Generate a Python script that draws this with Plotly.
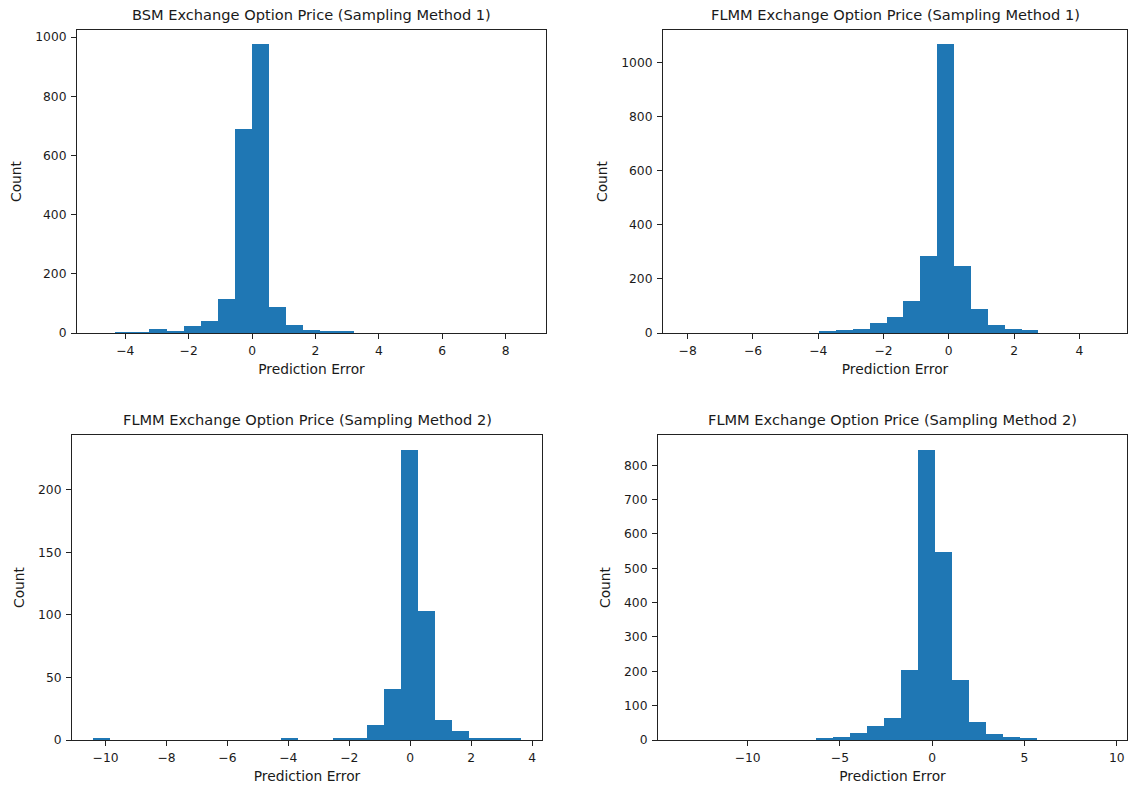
import plotly.graph_objects as go

# ---- data (histogram bins and counts) ----
titles = [
    "BSM Exchange Option Price (Sampling Method 1)",
    "FLMM Exchange Option Price (Sampling Method 1)",
    "FLMM Exchange Option Price (Sampling Method 2)",
    "FLMM Exchange Option Price (Sampling Method 2)",
]

bin_start_1, bin_width_1 = -4.85, 0.538
counts_1 = [0, 3, 3, 13, 4, 23, 42, 116, 688, 975, 89, 28, 9, 4, 4,
            0, 0, 0, 0, 0, 0, 0, 0, 0, 0]

bin_start_2, bin_width_2 = -8.11, 0.517
counts_2 = [0, 0, 0, 0, 0, 0, 0, 0, 5, 11, 15, 37, 61, 119, 284, 1067,
            248, 88, 31, 15, 10, 0, 0, 0, 0]

bin_start_3, bin_width_3 = -10.40, 0.561
counts_3 = [1, 0, 0, 0, 0, 0, 0, 0, 0, 0, 0, 1, 0, 0, 2, 1, 12, 41, 232,
            103, 16, 7, 2, 1, 2]

bin_start_4, bin_width_4 = -13.7, 0.924
counts_4 = [0, 0, 0, 0, 0, 0, 0, 0, 5, 10, 21, 42, 63, 205, 846, 548,
            176, 53, 18, 10, 6, 0, 0, 0, 0]

x_ticks = [[-4, -2, 0, 2, 4, 6, 8],
           [-8, -6, -4, -2, 0, 2, 4],
           [-10, -8, -6, -4, -2, 0, 2, 4],
           [-10, -5, 0, 5, 10]]
y_ticks = [[0, 200, 400, 600, 800, 1000],
           [0, 200, 400, 600, 800, 1000],
           [0, 50, 100, 150, 200],
           [0, 100, 200, 300, 400, 500, 600, 700, 800]]

x_label = "Prediction Error"
y_label = "Count"

# ---- layout ----
W, H = 1129, 787
boxes = [  # left, right, top, bottom in pixels
    (77, 546, 30, 333),
    (663, 1127, 30, 333),
    (72, 542, 435, 740),
    (658, 1127, 435, 740),
]
panels = [
    (bin_start_1, bin_width_1, counts_1),
    (bin_start_2, bin_width_2, counts_2),
    (bin_start_3, bin_width_3, counts_3),
    (bin_start_4, bin_width_4, counts_4),
]

BLUE = "#1f77b4"
FONT = "DejaVu Sans"
TXT = "#1a1a1a"

fig = go.Figure()
layout = dict(
    width=W, height=H,
    margin=dict(l=0, r=0, t=0, b=0, autoexpand=False),
    paper_bgcolor="white", plot_bgcolor="white",
    showlegend=False, bargap=0,
    font=dict(family=FONT, size=12, color=TXT),
    annotations=[],
)

for i, ((start, width, counts), (l, r, t, b)) in enumerate(zip(panels, boxes)):
    n = len(counts)
    centers = [start + width * (k + 0.5) for k in range(n)]
    lo, hi = start, start + width * n
    span = hi - lo
    xa = "x" if i == 0 else f"x{i+1}"
    ya = "y" if i == 0 else f"y{i+1}"
    fig.add_trace(go.Bar(
        x=centers, y=counts, width=[width] * n,
        marker=dict(color=BLUE, line=dict(width=0)),
        xaxis=xa, yaxis=ya, hoverinfo="x+y",
    ))
    ax_common = dict(
        showline=True, mirror=True, linecolor="#222", linewidth=1,
        ticks="outside", ticklen=5, tickwidth=1, tickcolor="#222",
        showgrid=False, zeroline=False, automargin=False,
        tickfont=dict(family=FONT, size=12.3, color=TXT),
    )
    xkey = "xaxis" if i == 0 else f"xaxis{i+1}"
    ykey = "yaxis" if i == 0 else f"yaxis{i+1}"
    layout[xkey] = dict(
        ax_common,
        domain=[l / W, r / W],
        anchor=ya,
        range=[lo - 0.05 * span, hi + 0.05 * span],
        tickmode="array", tickvals=x_ticks[i],
        ticklabelstandoff=1,
        title=dict(text=x_label, font=dict(family=FONT, size=13.8, color=TXT), standoff=7),
    )
    ymax = max(counts) * 1.05
    layout[ykey] = dict(
        ax_common,
        domain=[1 - b / H, 1 - t / H],
        anchor=xa,
        range=[0, ymax],
        tickmode="array", tickvals=y_ticks[i],
        ticklabelstandoff=2,
        title=dict(text=y_label, font=dict(family=FONT, size=13.8, color=TXT), standoff=10),
    )
    layout["annotations"].append(dict(
        text=titles[i], xref="paper", yref="paper",
        x=(l + r) / 2 / W, y=1 - t / H, xanchor="center", yanchor="bottom",
        yshift=5, showarrow=False,
        font=dict(family=FONT, size=14.6, color=TXT),
    ))

fig.update_layout(**layout)
fig.write_html("out.html")
